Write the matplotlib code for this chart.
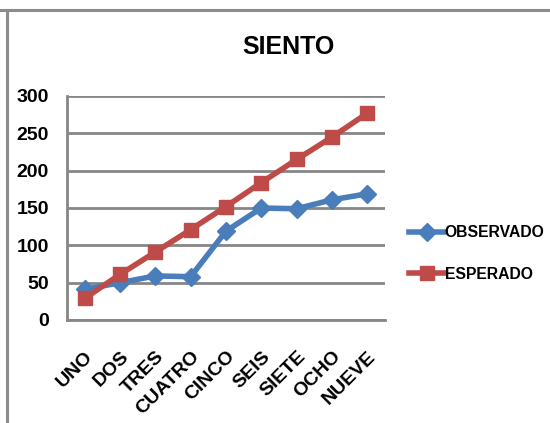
import matplotlib
matplotlib.use("Agg")
import matplotlib.pyplot as plt
from matplotlib.lines import Line2D

categories = ["UNO", "DOS", "TRES", "CUATRO", "CINCO", "SEIS", "SIETE", "OCHO", "NUEVE"]
observado = [41, 50, 59, 58, 119, 150, 149, 161, 169]
esperado = [29, 61, 91, 121, 152, 184, 215, 245, 277]
yticks = [0, 50, 100, 150, 200, 250, 300]

FONT = ["Liberation Sans Narrow", "Liberation Sans", "DejaVu Sans"]
plt.rcParams["font.family"] = FONT
plt.rcParams["font.weight"] = "bold"

BLUE = "#4A7EBB"
RED = "#BE4B48"
GRID = "#868686"

fig = plt.figure(figsize=(5.5, 4.23), dpi=100)
ax = fig.add_axes([67 / 550, 1 - 320 / 423, (385 - 67) / 550, (320 - 96) / 423])

x = list(range(len(categories)))
ax.plot(x, observado, color=BLUE, lw=4, marker="D", ms=9, mfc=BLUE, mec=BLUE,
        label="OBSERVADO", zorder=3)
ax.plot(x, esperado, color=RED, lw=4, marker="s", ms=10, mfc=RED, mec=RED,
        label="ESPERADO", zorder=4)

ax.set_xlim(-0.5, len(categories) - 0.5)
ax.set_ylim(0, 300)
ax.set_yticks(yticks)
ax.set_yticklabels([str(v) for v in yticks], fontsize=14, fontweight="bold")
ax.set_xticks(x)
ax.set_xticklabels(categories, rotation=45, ha="right", rotation_mode="anchor",
                   fontsize=14, fontweight="bold")
ax.tick_params(axis="x", length=0, pad=20)
ax.tick_params(axis="y", length=0, pad=13)

ax.grid(axis="y", color=GRID, lw=2)
ax.set_axisbelow(True)
for s in ["top", "right"]:
    ax.spines[s].set_visible(False)
for s in ["left", "bottom"]:
    ax.spines[s].set_color(GRID)
    ax.spines[s].set_linewidth(2)

fig.text(288 / 550, 1 - 47 / 423, "SIENTO", ha="center", va="center",
         fontsize=18, fontweight="bold")

handles = [
    Line2D([], [], color=BLUE, lw=4, marker="D", ms=9, mfc=BLUE, mec=BLUE),
    Line2D([], [], color=RED, lw=4, marker="s", ms=10, mfc=RED, mec=RED),
]
fig.legend(handles, ["OBSERVADO", "ESPERADO"], loc="upper left",
           bbox_to_anchor=(403 / 550, 1 - 219 / 423), frameon=False,
           prop={"family": FONT, "weight": "bold", "size": 11.3},
           handlelength=2.2, handletextpad=0.05, labelspacing=1.7, borderaxespad=0)

# chart frame
fig.add_artist(Line2D([0, 1], [1 - 10 / 423] * 2, color="#8c8c8c", lw=2.2,
                      transform=fig.transFigure))
fig.add_artist(Line2D([7 / 550] * 2, [0, 1 - 10 / 423], color="#8c8c8c", lw=2.2,
                      transform=fig.transFigure))

fig.savefig("out.png", dpi=100)
